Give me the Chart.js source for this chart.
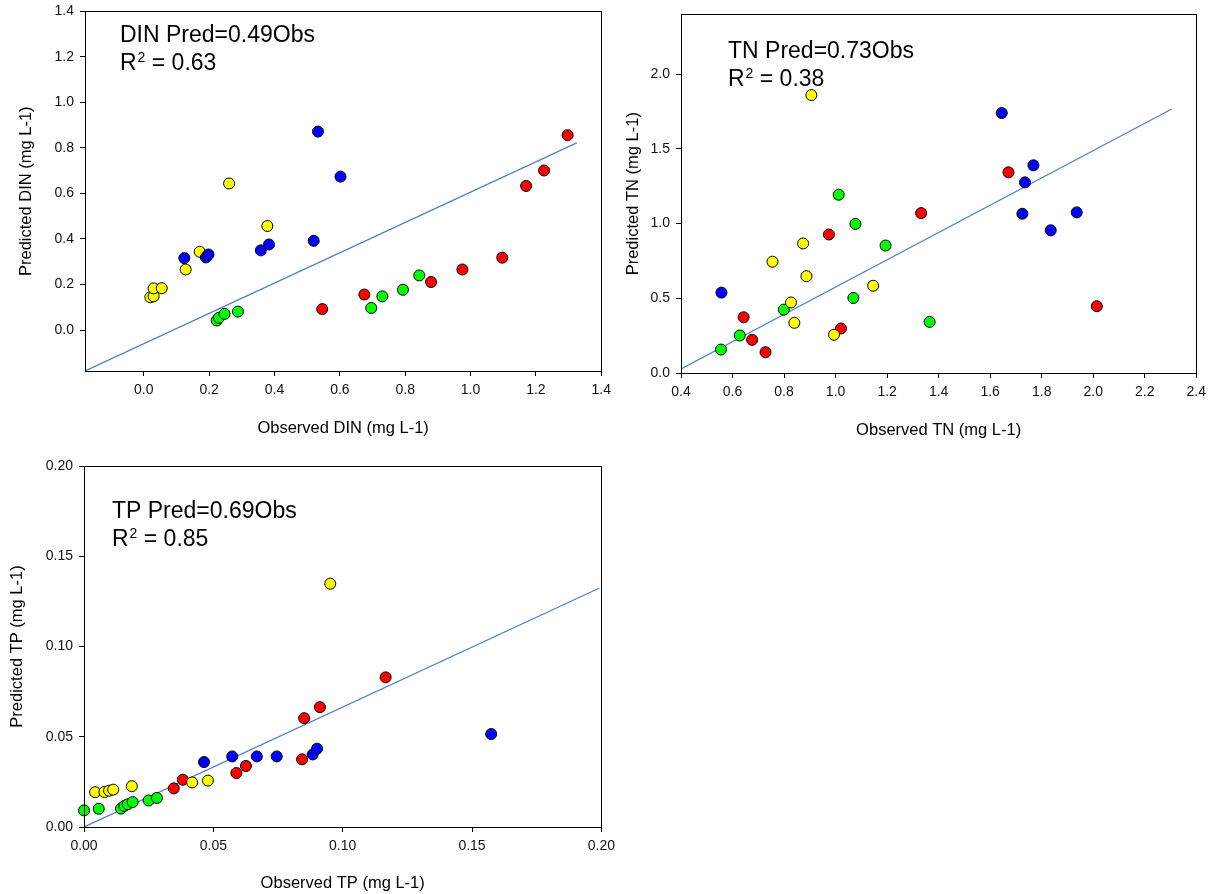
<!DOCTYPE html>
<html>
<head>
<meta charset="utf-8">
<title>Observed vs predicted nutrients</title>
<script src="https://cdn.jsdelivr.net/npm/chart.js@4.4.0/dist/chart.umd.min.js"></script>
<style>
    body { margin: 0; background: #fff; overflow: hidden; }
    .plot { position: absolute; }
</style>
</head>
<body>
<canvas id="din-chart" class="plot" width="617" height="443" style="left:0;top:-3px"></canvas>
<canvas id="tn-chart" class="plot" width="612" height="440" style="left:600px;top:0"></canvas>
<canvas id="tp-chart" class="plot" width="621" height="444" style="left:0;top:450px"></canvas>
<script>
// ---- DIN (mg L-1) ----
const dinYellowObs  = [0.02, 0.03, 0.03, 0.055, 0.128, 0.171, 0.261, 0.378];
const dinYellowPred = [0.144, 0.148, 0.183, 0.184, 0.266, 0.344, 0.644, 0.457];
const dinBlueObs    = [0.124, 0.19, 0.198, 0.358, 0.383, 0.52, 0.533, 0.602];
const dinBluePred   = [0.316, 0.319, 0.332, 0.35, 0.376, 0.392, 0.872, 0.674];
const dinGreenObs   = [0.223, 0.23, 0.247, 0.288, 0.696, 0.73, 0.793, 0.843];
const dinGreenPred  = [0.042, 0.054, 0.071, 0.081, 0.097, 0.148, 0.177, 0.24];
const dinRedObs     = [0.546, 0.675, 0.879, 0.975, 1.097, 1.17, 1.225, 1.297];
const dinRedPred    = [0.092, 0.156, 0.211, 0.266, 0.318, 0.633, 0.701, 0.856];
const dinFitObs     = [-0.18, 1.325];
const dinFitPred    = [-0.18, 0.822];

// ---- TN (mg L-1) ----
const tnYellowObs  = [0.906, 0.755, 0.874, 0.887, 0.827, 0.84, 0.994, 1.146];
const tnYellowPred = [1.86, 0.745, 0.867, 0.648, 0.472, 0.336, 0.256, 0.584];
const tnBlueObs    = [0.557, 1.645, 1.768, 1.735, 1.725, 1.936, 1.835];
const tnBluePred   = [0.538, 1.74, 1.39, 1.276, 1.066, 1.075, 0.955];
const tnGreenObs   = [0.555, 0.628, 0.799, 1.012, 1.077, 1.069, 1.194, 1.365];
const tnGreenPred  = [0.157, 0.251, 0.424, 1.193, 0.998, 0.502, 0.853, 0.342];
const tnRedObs     = [0.643, 0.676, 0.728, 0.974, 1.021, 1.332, 1.671, 2.014];
const tnRedPred    = [0.373, 0.222, 0.139, 0.927, 0.298, 1.07, 1.343, 0.447];
const tnFitObs     = [0.4, 2.305];
const tnFitPred    = [0.027, 1.767];

// ---- TP (mg L-1) ----
const tpYellowObs  = [0.0043, 0.0079, 0.0097, 0.0113, 0.0185, 0.0418, 0.0479, 0.0952];
const tpYellowPred = [0.0193, 0.0194, 0.0201, 0.0207, 0.0226, 0.0247, 0.0257, 0.1348];
const tpBlueObs    = [0.0464, 0.0573, 0.0668, 0.0745, 0.0884, 0.0901, 0.1574];
const tpBluePred   = [0.036, 0.0391, 0.0391, 0.0391, 0.0402, 0.0434, 0.0515];
const tpGreenObs   = [0.0, 0.0057, 0.0143, 0.0156, 0.0169, 0.0188, 0.025, 0.0282];
const tpGreenPred  = [0.0092, 0.0101, 0.0102, 0.0117, 0.0126, 0.0138, 0.0147, 0.0161];
const tpRedObs     = [0.0347, 0.0382, 0.0589, 0.0626, 0.0843, 0.0851, 0.0912, 0.1166];
const tpRedPred    = [0.0214, 0.0262, 0.0299, 0.0338, 0.0375, 0.0603, 0.0664, 0.0829];
const tpFitObs     = [0.0, 0.1993];
const tpFitPred    = [0.0, 0.1324];

const FONT = '"Liberation Sans", Arial, sans-serif';
Chart.defaults.font.family = FONT;

/**
 * Pairs an observed and a predicted array into scatter points.
 */
function pairs(obs, pred) {
    return obs.map((x, i) => ({ x: x, y: pred[i] }));
}

/**
 * Draws the box round the plot area and the equation / R² note.
 */
const frameAndNote = {
    id: 'frameAndNote',
    afterDraw(chart, args, opts) {
        const { ctx, chartArea: a } = chart;
        const al = p => Math.round(p - 0.5) + 0.5;
        ctx.save();
        ctx.strokeStyle = '#000';
        ctx.lineWidth = 1;
        ctx.strokeRect(al(a.left), al(a.top), al(a.right) - al(a.left), al(a.bottom) - al(a.top));

        const x = a.left + opts.dx;
        const y1 = a.top + opts.dy;
        const y2 = y1 + 28;
        ctx.fillStyle = '#000';
        ctx.textBaseline = 'alphabetic';
        ctx.textAlign = 'left';
        ctx.font = '23px ' + FONT;
        ctx.fillText(opts.equation, x, y1);
        ctx.fillText('R', x, y2);
        const wR = ctx.measureText('R').width;
        ctx.font = '14px ' + FONT;
        ctx.fillText('2', x + wR + 1, y2 - 8);
        const w2 = ctx.measureText('2').width;
        ctx.font = '23px ' + FONT;
        ctx.fillText(' = ' + opts.r2, x + wR + 1 + w2, y2);
        ctx.restore();
    }
};

/**
 * Builds one observed-vs-predicted panel.
 */
function makePanel(id, p) {
    const dot = (data, color) => ({
        data: data,
        backgroundColor: color,
        borderColor: '#000',
        borderWidth: 1,
        pointRadius: 5.5,
        pointHoverRadius: 5.5,
        clip: false
    });

    const axis = (cfg) => ({
        type: 'linear',
        min: cfg.min,
        max: cfg.max,
        title: {
            display: true,
            text: cfg.title,
            color: '#000',
            font: { size: 16.5 },
            padding: cfg.titlePad
        },
        ticks: {
            stepSize: cfg.step,
            includeBounds: false,
            autoSkip: false,
            maxRotation: 0,
            padding: cfg.tickPad,
            color: '#111',
            font: { size: 14 },
            callback: v => v.toFixed(cfg.digits)
        },
        grid: {
            drawOnChartArea: false,
            drawTicks: true,
            tickLength: 5,
            color: '#000'
        },
        border: { display: true, color: '#000' },
        afterFit: cfg.fit
    });

    return new Chart(document.getElementById(id), {
        type: 'scatter',
        data: {
            datasets: [
                dot(pairs(p.blue[0], p.blue[1]), '#0000ff'),
                dot(pairs(p.yellow[0], p.yellow[1]), '#ffff00'),
                dot(pairs(p.green[0], p.green[1]), '#00ff00'),
                dot(pairs(p.red[0], p.red[1]), '#ff0000'),
                {
                    data: pairs(p.fit[0], p.fit[1]),
                    showLine: true,
                    borderColor: '#4f81c5',
                    borderWidth: 1.3,
                    pointRadius: 0,
                    fill: false
                }
            ]
        },
        options: {
            responsive: false,
            animation: false,
            events: [],
            layout: { padding: p.pad },
            plugins: {
                legend: { display: false },
                tooltip: { enabled: false },
                frameAndNote: p.note
            },
            scales: {
                x: axis(Object.assign({ tickPad: 6, fit: s => { s.height = p.xHeight; } }, p.x)),
                y: axis(Object.assign({ tickPad: 6, fit: s => { s.width = p.yWidth; } }, p.y))
            }
        },
        plugins: [frameAndNote]
    });
}

makePanel('din-chart', {
    yellow: [dinYellowObs, dinYellowPred],
    blue: [dinBlueObs, dinBluePred],
    green: [dinGreenObs, dinGreenPred],
    red: [dinRedObs, dinRedPred],
    fit: [dinFitObs, dinFitPred],
    pad: { top: 7, right: 0, left: 0, bottom: 0 },
    xHeight: 69,
    yWidth: 85,
    x: { min: -0.18, max: 1.4, step: 0.2, digits: 1, title: 'Observed DIN (mg L-1)', titlePad: { top: 0, bottom: 2 } },
    y: { min: -0.18, max: 1.4, step: 0.2, digits: 1, title: 'Predicted DIN (mg L-1)', titlePad: { top: 17, bottom: 0 } },
    note: { dx: 35, dy: 31, equation: 'DIN Pred=0.49Obs', r2: '0.63' }
});

makePanel('tn-chart', {
    yellow: [tnYellowObs, tnYellowPred],
    blue: [tnBlueObs, tnBluePred],
    green: [tnGreenObs, tnGreenPred],
    red: [tnRedObs, tnRedPred],
    fit: [tnFitObs, tnFitPred],
    pad: { top: 12, right: 13, left: 0, bottom: 0 },
    xHeight: 67,
    yWidth: 81,
    x: { min: 0.4, max: 2.4, step: 0.2, digits: 1, title: 'Observed TN (mg L-1)', titlePad: { top: 0, bottom: 0 } },
    y: { min: 0, max: 2.4, step: 0.5, digits: 1, title: 'Predicted TN (mg L-1)', titlePad: { top: 24, bottom: 0 } },
    note: { dx: 47, dy: 44, equation: 'TN Pred=0.73Obs', r2: '0.38' }
});

makePanel('tp-chart', {
    yellow: [tpYellowObs, tpYellowPred],
    blue: [tpBlueObs, tpBluePred],
    green: [tpGreenObs, tpGreenPred],
    red: [tpRedObs, tpRedPred],
    fit: [tpFitObs, tpFitPred],
    pad: { top: 16, right: 0, left: 0, bottom: 0 },
    xHeight: 67,
    yWidth: 84,
    x: { min: 0, max: 0.2, step: 0.05, digits: 2, title: 'Observed TP (mg L-1)', titlePad: { top: 0, bottom: 1 } },
    y: { min: 0, max: 0.2, step: 0.05, digits: 2, title: 'Predicted TP (mg L-1)', titlePad: { top: 8, bottom: 0 } },
    note: { dx: 28, dy: 52, equation: 'TP Pred=0.69Obs', r2: '0.85' }
});
</script>
</body>
</html>
